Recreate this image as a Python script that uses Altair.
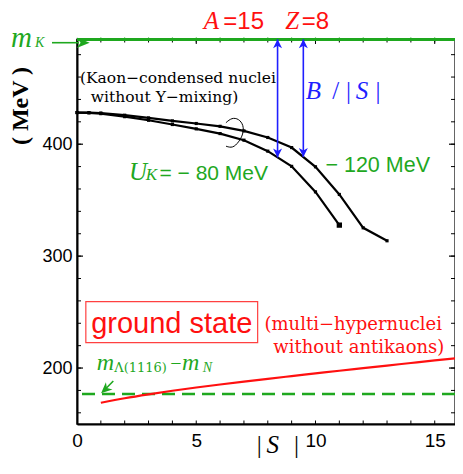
import altair as alt
import pandas as pd

# ---------------- data ----------------
S_80 = [0, 0.5, 1, 2, 3, 4, 5, 6, 7, 8, 9, 10, 11]
E_80 = [428.3, 428.0, 427.3, 424.6, 421.4, 417.6, 413.7, 409.5, 403.6, 393.8, 380.2, 357.4, 327.7]
S_120 = [0, 0.5, 1, 2, 3, 4, 5, 6, 7, 8, 9, 10, 11, 12, 13]
E_120 = [428.3, 428.2, 427.9, 425.9, 423.5, 420.8, 418.5, 416.0, 411.9, 406.0, 397.0, 379.8, 355.1, 325.3, 313.7]
S_gs = [1, 2, 3, 4, 5, 6, 7, 8, 9, 10, 11, 12, 13, 14, 15, 16]
E_gs = [169, 173, 176.5, 179.7, 182.6, 185.3, 187.9, 190.4, 192.8, 195.2, 197.6, 199.9, 202.2, 204.5, 206.8, 209]
M_K = 493.7
M_L_MINUS_N = 176.8
MK_MARK_S = [1, 2, 3, 4, 5, 6, 7, 8, 9, 10, 11, 12, 13, 14, 15]
ARROW_S = [8.41, 9.49]
ARROW_E = [388.2, 388.6]
X_LABELS = [0, 5, 10, 15]
Y_LABELS = [200, 300, 400]
X_MINOR = [1, 2, 3, 4, 5, 6, 7, 8, 9, 10, 11, 12, 13, 14, 15]
Y_MINOR = [160, 180, 200, 220, 240, 260, 280, 300, 320, 340, 360, 380, 400, 420, 440, 460, 480]
BRACE_S = [6.245, 6.49, 6.78, 6.99, 6.97, 6.78, 6.53, 6.25]
BRACE_E = [419.2, 423.7, 422.8, 417.0, 408.9, 401.8, 396.4, 398.2]

W, H = 378, 385
KX = W / 385.0
xs = alt.Scale(domain=[0, 15.85], nice=False, zero=False)
ys = alt.Scale(domain=[150, 494], nice=False, zero=False)

RED = "#ff1010"
GREEN = "#1fa81f"
BLUE = "#1f1fff"
SERIF = "Liberation Serif"
SERIF2 = "DejaVu Serif"
SANS = "Liberation Sans"

XAX = alt.Axis(values=X_LABELS, ticks=False, grid=False, domainColor="black", domainWidth=2,
               labelFontSize=19, labelFont=SANS, labelColor="black", labelPadding=7,
               title=None, labelFlush=False)
YAX = alt.Axis(values=Y_LABELS, ticks=False, grid=False, domainColor="black", domainWidth=2,
               labelFontSize=18, labelFont=SANS, labelColor="black", labelPadding=5,
               title=None, labelFlush=False)

df80 = pd.DataFrame({"S": S_80, "E": E_80})
df120 = pd.DataFrame({"S": S_120, "E": E_120})
dfgs = pd.DataFrame({"S": S_gs, "E": E_gs})
one = pd.DataFrame({"d": [0]})

X = lambda: alt.X("S:Q", scale=xs, axis=XAX)
Y = lambda: alt.Y("E:Q", scale=ys, axis=YAX)


def px(x):
    return x * KX if x > 0 else x


def txt(s, x, y, size, color, font=SANS, style="normal", weight="normal",
        align="left", angle=0, baseline="alphabetic"):
    kw = dict(text=s, fontSize=size, color=color, font=font, fontStyle=style,
              fontWeight=weight, align=align, baseline=baseline)
    if angle:
        kw["angle"] = angle
    return alt.Chart(one).mark_text(**kw).encode(x=alt.value(px(x)), y=alt.value(y))


layers = []

# inward ticks
dfx = pd.DataFrame({"S": X_MINOR})
dfy = pd.DataFrame({"E": Y_MINOR})
dfxM = pd.DataFrame({"S": X_LABELS})
dfyM = pd.DataFrame({"E": Y_LABELS})
layers += [
    alt.Chart(dfx).mark_rule(color="black", strokeWidth=1).encode(x=X(), y=alt.value(H), y2=alt.value(H - 3.5)),
    alt.Chart(dfx).mark_rule(color="black", strokeWidth=1).encode(x=X(), y=alt.value(0), y2=alt.value(3.5)),
    alt.Chart(dfxM).mark_rule(color="black", strokeWidth=1).encode(x=X(), y=alt.value(0), y2=alt.value(5)),
    alt.Chart(dfy).mark_rule(color="black", strokeWidth=1).encode(y=Y(), x=alt.value(0), x2=alt.value(4)),
    alt.Chart(dfy).mark_rule(color="black", strokeWidth=1).encode(y=Y(), x=alt.value(W), x2=alt.value(W - 4)),
    alt.Chart(dfyM).mark_rule(color="black", strokeWidth=1.2).encode(y=Y(), x=alt.value(0), x2=alt.value(6)),
    alt.Chart(dfyM).mark_rule(color="black", strokeWidth=1.2).encode(y=Y(), x=alt.value(W), x2=alt.value(W - 6)),
]

# m_K line with markers
dfmk = pd.DataFrame({"S": MK_MARK_S, "E": [M_K] * len(MK_MARK_S)})
layers.append(alt.Chart(dfmk).mark_rule(color=GREEN, strokeWidth=1.6).encode(y=Y()))
layers.append(
    alt.Chart(dfmk)
    .mark_point(shape="diamond", filled=True, size=16, color=GREEN, opacity=1)
    .encode(x=X(), y=Y())
)

# m_Lambda - m_N dashed line
dfl = pd.DataFrame({"E": [M_L_MINUS_N]})
layers.append(alt.Chart(dfl).mark_rule(color=GREEN, strokeWidth=2.6, strokeDash=[13, 7])
              .encode(y=Y()))

# ground state (red)
layers.append(alt.Chart(dfgs).mark_line(color=RED, strokeWidth=2.2, clip=True, interpolate="monotone")
              .encode(x=X(), y=Y()))

# kaon-condensed curves
for d in (df80, df120):
    layers.append(alt.Chart(d).mark_line(color="black", strokeWidth=2.2).encode(x=X(), y=Y()))
    layers.append(alt.Chart(d).mark_point(shape="square", filled=True, size=10, color="black", opacity=1)
                  .encode(x=X(), y=Y()))
layers.append(alt.Chart(df80.tail(1)).mark_point(shape="square", filled=True, size=28, color="black", opacity=1)
              .encode(x=X(), y=Y()))

# brace
dfb = pd.DataFrame({"S": BRACE_S, "E": BRACE_E, "i": list(range(len(BRACE_S)))})
layers.append(alt.Chart(dfb).mark_line(color="black", strokeWidth=1, interpolate="basis")
              .encode(x=X(), y=Y(), order="i:O"))

# blue double arrows
dfa = pd.DataFrame({"S": ARROW_S, "E": ARROW_E, "T": [M_K, M_K]})
layers.append(alt.Chart(dfa).mark_rule(color=BLUE, strokeWidth=1.6)
              .encode(x=X(), y=Y(), y2="T:Q"))
layers.append(alt.Chart(dfa).mark_point(shape="M0,0L-0.9,-1.8L0,-1.3L0.9,-1.8Z", filled=True,
                                        size=100, color=BLUE, opacity=1)
              .encode(x=X(), y=Y()))
layers.append(alt.Chart(dfa).mark_point(shape="M0,0L-0.9,1.8L0,1.3L0.9,1.8Z", filled=True,
                                        size=100, color=BLUE, opacity=1)
              .encode(x=X(), y=alt.Y("T:Q", scale=ys, axis=YAX)))

# green arrow m_K
layers.append(alt.Chart(one).mark_rule(color=GREEN, strokeWidth=1.6)
              .encode(x=alt.value(-25), x2=alt.value(2), y=alt.value(3.7)))
layers.append(alt.Chart(one).mark_point(shape="M0,0L-2,-0.8L-1.4,0L-2,0.8Z", filled=True,
                                        size=169, color=GREEN, opacity=1)
              .encode(x=alt.value(12.7), y=alt.value(3.7)))
# green small arrow for m_Lambda - m_N
layers.append(alt.Chart(one).mark_rule(color=GREEN, strokeWidth=1.6)
              .encode(x=alt.value(px(28)), x2=alt.value(px(37)), y=alt.value(351), y2=alt.value(342)))
layers.append(alt.Chart(one).mark_point(shape="M0,0L1.87,-0.61L0.96,-0.87L0.79,-1.79Z", filled=True,
                                        size=150, color=GREEN, opacity=1)
              .encode(x=alt.value(px(24.5)), y=alt.value(354.3)))

# red box
layers.append(alt.Chart(one).mark_rect(fillOpacity=0, stroke="#ff4040", strokeWidth=1.2)
              .encode(x=alt.value(px(9)), x2=alt.value(px(184)), y=alt.value(262.7), y2=alt.value(303.7)))

# texts
layers += [
    txt("A", 129, -9.6, 25, RED, font=SERIF, style="italic"),
    txt("=15", 149, -9.6, 24, RED),
    txt("Z", 212, -9.6, 25, RED, font=SERIF, style="italic"),
    txt("=8", 229, -9.6, 24, RED),
    txt("m", -66, 8, 29, GREEN, font=SERIF, style="italic"),
    txt("K", -42, 8, 14, GREEN, font=SERIF, style="italic"),
    txt("( MeV )", -56, 67, 24, "black", font=SERIF, weight="bold", align="center",
        angle=270, baseline="middle"),
    txt("(Kaon−condensed nuclei", 3, 44, 15.5, "black", font=SERIF2),
    txt("without Y−mixing)", 14, 63, 15.5, "black", font=SERIF2),
    txt("U", 53, 141, 25, GREEN, font=SERIF, style="italic"),
    txt("K", 70, 141, 17, GREEN, font=SERIF, style="italic"),
    txt("= − 80 MeV", 84, 141, 21, GREEN),
    txt("− 120 MeV", 253, 132.5, 21.5, GREEN),
    txt("B", 233, 60, 25, BLUE, font=SERIF, style="italic"),
    txt("/", 260, 60, 25, BLUE, font=SERIF),
    txt("|", 274, 60, 25, BLUE, font=SERIF),
    txt("S", 284, 60, 25, BLUE, font=SERIF, style="italic"),
    txt("|", 304, 60, 25, BLUE, font=SERIF),
    txt("ground state", 96.5, 294, 29, RED, align="center"),
    txt("(multi−hypernuclei", 191, 290.5, 18, RED, font=SERIF2),
    txt("without antikaons)", 200, 313.5, 18, RED, font=SERIF2),
    txt("m", 20, 331, 24, GREEN, font=SERIF, style="italic"),
    txt("Λ(1116)", 38, 333, 13, GREEN, font=SERIF2),
    txt("−", 95, 331, 20, GREEN, font=SERIF),
    txt("m", 107, 331, 24, GREEN, font=SERIF, style="italic"),
    txt("N", 128, 333, 14, GREEN, font=SERIF, style="italic"),
    txt("|", 183, 414, 25, "black", font=SERIF),
    txt("S", 193, 414, 25, "black", font=SERIF, style="italic"),
    txt("|", 221, 414, 25, "black", font=SERIF),
]

chart = (
    alt.layer(*layers)
    .properties(width=W, height=H, autosize="none",
                padding={"left": 69, "top": 31, "right": 0, "bottom": 36})
    .configure_view(stroke="black", strokeWidth=1.4)
)

chart.save("out.html", embed_options={"renderer": "svg", "actions": False})
